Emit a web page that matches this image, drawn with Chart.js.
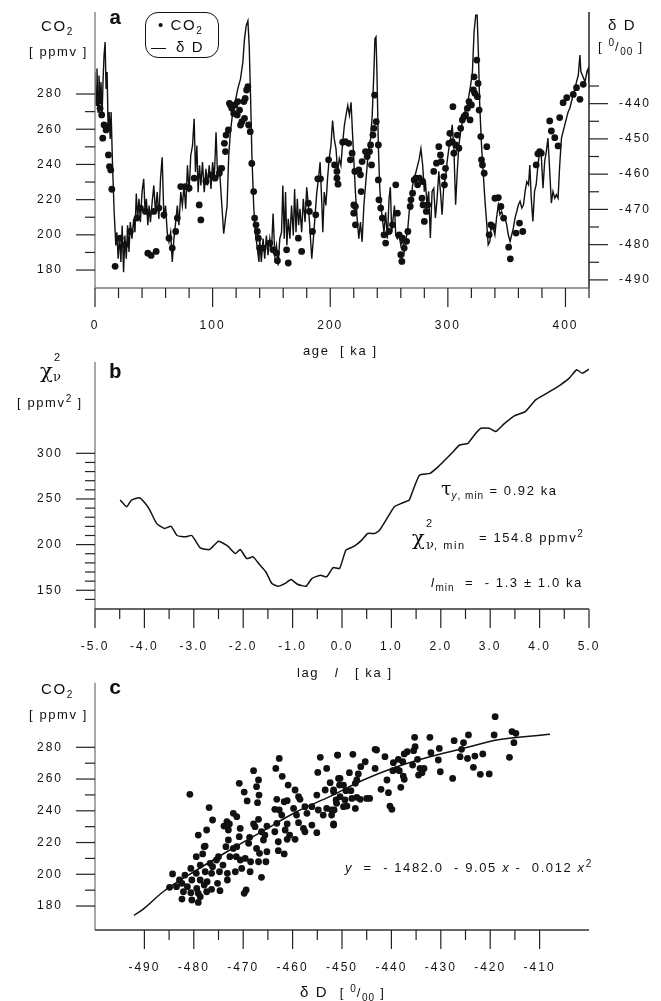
<!DOCTYPE html>
<html>
<head>
<meta charset="utf-8">
<script src="https://cdn.jsdelivr.net/npm/chart.js@4.4.0/dist/chart.umd.min.js"></script>
<style>
  body { margin: 0; background: #fff; width: 661px; height: 1001px; position: relative; overflow: hidden;
         font-family: "Liberation Sans", Arial, sans-serif; color: #111; }
  canvas { position: absolute; left: 0; }
  .t { position: absolute; white-space: nowrap; font-size: 13px; letter-spacing: 1.6px; line-height: 1; }
  .t sub, .t sup { font-size: 10px; line-height: 0; letter-spacing: 1px; }
  .h { font-size: 15px; }
  .lbl { font-family: "Liberation Mono", monospace; font-weight: bold; font-size: 21px; letter-spacing: 0; }
  .gr { font-family: "DejaVu Serif", serif; letter-spacing: 0; }
  .legend { position: absolute; left: 145px; top: 12px; width: 72px; height: 44px; border: 1px solid #111; border-radius: 13px; }
</style>
</head>
<body>

<canvas id="chartA" width="661" height="340" style="top:0"></canvas>
<canvas id="chartB" width="661" height="320" style="top:340px"></canvas>
<canvas id="chartC" width="661" height="341" style="top:660px"></canvas>

<!-- panel a -->
<div class="t h" style="left:41px;top:18px">CO<sub>2</sub></div>
<div class="t" style="left:29px;top:45px">[ ppmv ]</div>
<div class="t lbl" style="left:109px;top:8px">a</div>
<div class="legend"></div>
<div class="t h" style="left:158px;top:17px">• CO<sub>2</sub></div>
<div class="t h" style="left:151px;top:39px">—</div>
<div class="t h" style="left:176px;top:39px">δ D</div>
<div class="t h" style="left:608px;top:17px">δ D</div>
<div class="t" style="left:598px;top:40px">[ <sup>0</sup>/<sub>00</sub> ]</div>
<div class="t" style="left:303px;top:344px">age &nbsp;[ ka ]</div>

<!-- panel b -->
<div class="t gr" style="left:40px;top:361px;font-size:21px">χ</div>
<div class="t" style="left:54px;top:352px;font-size:11px">2</div>
<div class="t gr" style="left:53px;top:370px;font-size:13px">ν</div>
<div class="t" style="left:17px;top:396px">[ ppmv<sup>2</sup> ]</div>
<div class="t lbl" style="left:109px;top:362px">b</div>
<div class="t" style="left:441px;top:479px"><span class="gr" style="font-size:19px">τ</span><sub><i>y</i>, min</sub> = 0.92 ka</div>
<div class="t" style="left:412px;top:528px"><span class="gr" style="font-size:21px">χ</span></div>
<div class="t" style="left:426px;top:518px;font-size:11px">2</div>
<div class="t" style="left:426px;top:538px;font-size:11px"><span class="gr" style="font-size:13px">ν</span>, min</div>
<div class="t" style="left:479px;top:531px">= 154.8 ppmv<sup>2</sup></div>
<div class="t" style="left:431px;top:576px"><i>l</i><sub>min</sub> &nbsp;= &nbsp;- 1.3 ± 1.0 ka</div>
<div class="t" style="left:297px;top:666px">lag &nbsp;&nbsp;<i>l</i> &nbsp;&nbsp;[ ka ]</div>

<!-- panel c -->
<div class="t h" style="left:41px;top:681px">CO<sub>2</sub></div>
<div class="t" style="left:29px;top:708px">[ ppmv ]</div>
<div class="t lbl" style="left:109px;top:678px">c</div>
<div class="t" style="left:345px;top:861px"><i>y</i> &nbsp;= &nbsp;- 1482.0 &nbsp;- 9.05 <i>x</i> - &nbsp;0.012 <i>x</i><sup>2</sup></div>
<div class="t h" style="left:300px;top:984px">δ D &nbsp;<span style="font-size:13px">[ <sup>0</sup>/<sub>00</sub> ]</span></div>

<script>
// ---- panel a: deuterium record (permil) vs age (ka)
const dDAge = [0,0.9,1.7,2.6,3.4,4.3,5.1,6,6.9,7.7,8.6,9.4,10.3,11.1,12,12.9,13.7,14.9,16.3,17.7,18.6,19.7,20.9,22,23.1,24.3,25.4,26.6,27.7,28.9,30,31.4,32.9,34,35.1,36.3,37.4,38.6,40,41.4,42.6,43.7,44.9,46,47.1,48.6,50,51.4,52.9,54.3,55.7,57.1,58.6,60,61.4,62.9,64.3,65.7,67.1,68.6,70,71.4,72.9,74.3,75.7,77.1,78.6,80,81.4,82.9,84.3,85.4,86.6,87.7,88.9,90,91.4,92.9,94.3,95.7,97.1,98.6,100,101.4,102.9,104.3,105.7,107.1,108.6,109.4,110.9,112.3,113.7,115.1,117.1,119.1,121.4,123.7,125.7,127.1,128.6,130,131.1,132.3,133.4,134.9,136.3,137.7,139.4,
  140,141.4,142.9,144.3,145.7,147.1,148.6,150,151.4,152.9,154.3,155.7,157.1,158.6,159.7,160.9,162,163.1,164.3,165.7,167.1,168.6,169.7,170.9,172,173.1,174.3,175.7,177.1,178.6,180,181.4,182.9,184.3,185.7,187.1,188.6,190,191.4,192.9,193.7,194.9,196.3,197.7,199.1,200.6,202,203.4,204.9,206.3,207.7,209.1,210.6,212,213.4,214.9,216.3,217.7,218.9,220,221.4,222.9,224.3,225.7,227.1,228.6,230,231.4,232.9,234.3,235.7,237.1,238,238.9,239.7,240.9,242,243.1,244.3,245.7,247.1,248.6,250,251.1,252.3,253.4,254.6,255.7,257.1,258.6,260,261.4,262.9,264.3,265.7,267.1,268.6,270,271.4,272.9,274.3,275.7,277.1,278.6,
  280,280.9,282.3,283.7,285.1,286.6,288,289.4,290.9,292.3,293.7,295.1,296.6,298,299.4,300.9,302.3,303.7,305.1,306.6,308,309.4,310.9,312.3,313.7,315.1,316.6,318,319.4,320.9,322.3,323.7,324.9,326,327.1,328.6,330,331.4,332.9,334.3,335.7,337.1,338.6,340,341.4,342.9,344.3,345.7,347.1,348.6,350,351.4,352.9,354.3,355.7,357.1,358.6,360,361.4,362.9,364.3,365.7,367.1,368.6,369.7,370.9,372.3,373.7,375.1,376.6,378,379.4,380.9,382.3,383.7,385.1,386.6,388,389.4,390.9,392.3,393.7,395.1,396.6,398,399.4,400.9,402.3,403.7,405.1,406.6,408,409.4,410.9,412.3,413.1,414.9,416.6,418.3,419.4,420];
const dDValue = [-431,-440.5,-430,-442.4,-432,-438.6,-433.9,-443.3,-433,-426.3,-422.5,-435.8,-431,-446.2,-442.4,-450,-442.4,-457.5,-470.8,-480.2,-476.5,-484,-477.4,-484.9,-474.6,-487.8,-477.4,-484,-474.5,-482.1,-473.6,-478.3,-472.7,-476.5,-465.5,-472.7,-467,-473.6,-465.1,-461.3,-470.8,-467,-474.5,-468.9,-473.6,-468,-463.2,-470.8,-465.1,-472.7,-461.3,-455.2,-472.7,-468.9,-476.5,-479.2,-476.5,-484.9,-478.3,-473.6,-468.9,-474.5,-465.1,-468.9,-463.2,-469.8,-457.5,-465.1,-454.7,-451.9,-444.3,-459.4,-451.9,-465.1,-457.5,-463.2,-456.6,-465.1,-458.5,-463.2,-457.5,-464.2,-456.6,-461.3,-448.1,-461.3,-457.5,-465.1,-472.7,-476.9,-472.7,-468.9,-454.7,-448.1,-442.4,-439.6,-435.8,-433,-428.3,-421.6,-417.8,-416.5,-423.5,-438.6,-454.7,-468.9,-476.5,-480.2,-484.9,
  -478.3,-484.9,-478.3,-484,-477.4,-483,-478.3,-482.1,-471.2,-483,-480.2,-485.9,-478.3,-476.5,-463.2,-478.3,-465.1,-480.2,-472.7,-478.3,-468.9,-477.4,-464.2,-476.5,-467,-474.5,-469.8,-476.5,-467,-473.6,-463.7,-468.9,-476.5,-484,-478.3,-471.7,-465.1,-461.3,-456.6,-468.9,-476.5,-465.1,-468.9,-461.3,-455.6,-451.9,-444.8,-450,-452.8,-459.4,-455.6,-457.5,-450.9,-446.2,-443.3,-440.5,-443.3,-439.6,-448.1,-455.6,-465.1,-472.7,-478.3,-473.6,-479.2,-468.9,-463.2,-457.5,-451.9,-450,-443.3,-431,-421.6,-421.1,-431,-451.9,-463.2,-468.9,-472.7,-476.5,-470.8,-478.3,-467,-463.7,-476.5,-472.7,-468.9,-477.4,-478.3,-477.4,-480.2,-478.3,-482.1,-478.3,-476.5,-470.8,-468,-463.2,-461.3,-459.4,-457.5,-455.6,-452.8,-457.5,
  -465,-462.1,-468.7,-464.9,-478.1,-464.9,-464,-472.4,-466.8,-459.2,-464.9,-471.5,-463,-461.1,-456.4,-452.6,-449.8,-446,-452.6,-468.7,-459.2,-451.7,-447.9,-445.1,-444.1,-441.3,-440.4,-437.5,-434.7,-430.9,-419.6,-414.9,-414.9,-426.2,-440.4,-451.7,-459.2,-466.8,-473.4,-480,-479.1,-474.3,-475.3,-477.2,-472.4,-468.7,-471.5,-470.6,-472.4,-472.4,-474.3,-477.2,-479.1,-477.2,-475.3,-472.4,-470.6,-468.7,-467.7,-469.6,-468.7,-464.9,-462.1,-463,-457.4,-466.8,-473.4,-464.9,-463,-457.4,-453.6,-454.6,-464,-456.4,-453.6,-449.8,-459.2,-468.2,-464.9,-466.8,-465.8,-466.8,-457.4,-449.8,-447.9,-446,-444.1,-442.3,-441.3,-439.4,-437.5,-435.7,-433.8,-431.9,-426.2,-430.9,-432.4,-433.8,-430.9,-430,-434];

// ---- panel a: CO2 (ppmv) vs age (ka)
const co2Age = [1.4,2.9,4.3,5.7,6.6,7.7,9.4,10.6,11.4,12.3,13.4,14.3,17.1,21.4,25.7,30,35.7,38.6,42.9,44.9,47.7,50,52,54.3,58.6,62.9,65.7,68.6,70,72.9,76.6,80,84.3,88.6,90,94.3,98.6,102,105.7,107.7,110,110.9,111.4,113.4,114.3,115.1,116.3,118,119.1,120.9,121.4,122.9,123.7,124.9,126.6,127.1,127.7,128.9,130,130.6,132,133.3,134.9,135.7,136.9,138,138.9,140,142.9,148.6,151.4,154.3,155.1,162.9,164.3,172.9,175.7,181.4,182.3,184.9,187.7,189.4,191.7,198.6,203.7,205.7,205.7,206.6,210.6,212.9,215.7,217.1,218.6,220,220,220.9,221.4,221.4,224.3,225.7,226.3,227.1,230,231.4,233.4,234.3,235.1,236.3,237.1,237.7,239.1,240.9,240.9,241.4,242.9,244.3,245.7,247.1,250,252.9,255.7,257.1,258.6,260,260.9,261.4,262.9,264.9,266,268,268.6,270,271.4,272.9,274.3,275.7,278,278.6,278.9,280,281.7,282.9,288,290.3,292.3,293.7,294.3,296.6,297.1,298,300.9,301.7,303.7,304.3,305.1,306.6,308,309.4,310.9,312.3,313.7,315.1,316.6,318,318.9,320,321.7,322.3,322.9,324.6,325.1,325.7,326.6,328,328.6,329.4,330.9,333.1,335.1,336.6,338,340,342.9,345.1,347.4,351.7,353.1,358,360.9,363.7,375.1,376.5,378,379.4,386.6,388,390.9,393.7,395.1,398,401.1,406.6,409.4,412.3,415.1];
const co2Ppmv = [279.4,275.7,271.9,268.1,254.9,262.4,259.6,261.5,245.4,238.8,236.9,225.9,182.1,198.1,194.4,201.9,209.5,215.2,213.3,189.6,188.3,213.3,190.6,215.2,211.4,198.1,192.5,201.9,209.5,227.4,227.4,226.5,232.2,217,208.5,230.3,234.1,232.2,235,237.8,252,247.3,256.7,259.6,274.7,273.8,271.9,269,273.8,268.1,275.7,270.9,262.4,264.3,275.7,266.2,277.5,282.3,284.2,262.4,258.6,240.6,224.6,209.5,205.7,201.9,198.1,192.5,192.5,195.3,191.5,189.6,185.3,191.5,184,198.1,190.6,218,213.3,201.9,211.4,231.8,231.8,242.6,239.7,236,232.2,228.8,252.6,253,252,242.6,246.4,217,212.3,236,216.1,205.7,236.9,234.1,224.6,241.6,247.3,244.5,247.3,251.1,239.7,256.7,260.5,279.4,264.3,251.1,231.2,219.9,215.2,209.5,200,195.3,201.9,205.7,228.4,212.3,200,188.7,184.9,198.1,192.5,196.3,201.9,216.1,219.9,223.7,231.2,232.2,228.4,232.2,220.8,230.3,217,207.6,213.3,217,236,240.7,250.1,245.4,241.6,233.1,228.4,237.8,252,257.7,253,272.8,246.4,251.1,256.7,249.2,260.5,265.3,267.1,268.1,271.9,275.7,265.3,273.8,282.3,289.8,280.4,299.3,278.5,286,270.9,255.8,242.6,239.7,235,250.1,200,205.7,204.8,220.8,221.2,216.1,209.5,193,186.4,201,206.7,201.9,239.7,246,247.3,246.4,264.7,259,255.2,250.5,266.6,275.1,277.9,279.8,283.6,277,285.5];
const ageMajor = [0, 100, 200, 300, 400];
const ageMinor = [20,40,60,80,120,140,160,180,220,240,260,280,320,340,360,380,420];
const co2MajorA = [180, 200, 220, 240, 260, 280];
const co2MinorA = [190, 210, 230, 250, 270];
const dDMajorA = [-490, -480, -470, -460, -450, -440];
const dDMinorA = [-485, -475, -465, -455, -445, -435];

// ---- panel b: reduced chi-square vs lag
const lagKa = [-4.49,-4.36,-4.26,-4.10,-3.98,-3.89,-3.75,-3.59,-3.46,-3.34,-3.17,-3.04,-2.87,-2.68,-2.50,-2.31,-2.16,-2.06,-1.93,-1.80,-1.67,-1.54,-1.42,-1.29,-1.16,-1.03,-0.90,-0.73,-0.61,-0.44,-0.31,-0.18,-0.05,0.08,0.25,0.40,0.52,0.66,0.76,0.89,1.06,1.23,1.36,1.44,1.57,1.78,1.95,2.12,2.25,2.38,2.55,2.68,2.81,2.98,3.11,3.28,3.49,3.71,3.92,4.09,4.26,4.43,4.60,4.75,4.86,5.0];
const chi2 = [248.8,241.5,248.8,251.3,245,237.8,223,217.7,220,210,208.5,210,196.5,194.6,203.8,198.3,190.2,194.6,184.8,186.6,178.2,170,157.3,154.4,157.3,161.7,156.6,154.4,162.8,166.5,164.7,174.9,173.8,193.9,198.3,204.9,212.2,212.2,215.8,226.8,241.5,245.8,248.8,259.8,276.2,278,285.4,294.5,301.8,309.1,311,320.1,327.4,327.4,323.8,332.2,341,345.7,358.5,364,369.5,375.3,382.3,391.5,387.8,392.2];
const lagMajor = [-5,-4,-3,-2,-1,0,1,2,3,4,5];
const lagMinor = [-4.5,-3.5,-2.5,-1.5,-0.5,0.5,1.5,2.5,3.5,4.5];
const chiMajor = [150, 200, 250, 300];
const chiMinor = [140,160,170,180,190,210,220,230,240,260,270,280,290];

// ---- panel c: CO2 vs deuterium scatter and fitted curve
const scatDD = [-462.7,-454.4,-450.9,-467.9,-463.4,-454.9,-453.1,-462.1,-466.9,-470.8,-450.7,-467.3,-469.8,-480.8,-460.9,-459.5,-452.4,-453.4,-451.7,-466.8,-469.2,-467.1,-463.2,-461.7,-461.1,-458.8,-458.5,-455.1,-476.9,-463.6,-462.7,-459.8,-457.5,-456.1,-454.8,-453.1,-451.1,-451.6,-472.0,-471.3,-466.9,-462.2,-459.2,-457.1,-453.8,-452.1,-476.2,-473.3,-473.9,-472.8,-467.9,-465.2,-463.2,-461.1,-458.8,-456.1,-451.7,-477.4,-479.1,-473.0,-470.6,-467.6,-466.3,-465.6,-463.6,-461.5,-460.6,-457.8,-457.5,-455.1,-477.7,-473.0,-470.8,-468.7,-465.9,-462.9,-461.1,-459.5,-479.5,-478.2,-477.9,-475.0,-473.5,-472.0,-471.3,-468.9,-467.3,-466.7,-465.2,-462.9,-461.7,-478.7,-476.7,-476.2,-475.4,-474.1,-472.7,-471.4,-470.6,-469.6,-468.5,-466.9,-465.4,-484.3,-480.6,-479.5,-477.7,-476.4,-474.8,-473.2,-471.6,-470.3,-468.6,-466.3,-482.9,-481.8,-480.4,-478.7,-477.3,-475.2,-473.2,-484.9,-483.5,-482.4,-481.3,-479.4,-477.9,-476.4,-474.7,-469.4,-469.8,-482.1,-480.6,-479.1,-477.4,-482.4,-480.4,-478.7,-479.1,
  -419.0,-419.2,-415.6,-414.8,-415.2,-416.1,-420.2,-422.0,-423.4,-421.5,-423.1,-424.6,-426.1,-424.4,-425.4,-425.8,-427.3,-427.6,-430.3,-430.5,-430.1,-432.2,-432.0,-435.3,-435.2,-435.5,-436.8,-437.4,-437.7,-438.6,-439.6,-438.9,-439.7,-438.4,-434.7,-435.7,-434.2,-433.4,-434.5,-433.8,-437.6,-437.4,-438.1,-440.9,-441.3,-443.3,-443.0,-443.3,-445.3,-446.2,-447.8,-450.9,-448.5,-446.7,-447.0,-447.3,-448.2,-450.4,-449.7,-449.2,-450.5,-451.7,-442.1,-440.6,-445.0,-444.4,-446.3,-447.0,-448.0,-449.4,-450.4,-451.2,-449.0,-449.7,-447.3,-440.3,-439.9,-452.1,-451.7];
const scatCO2 = [273.0,273.7,275.1,265.3,266.7,264.2,266.7,261.7,259.4,257.3,260.4,255.2,251.8,250.4,256.2,253.1,257.7,253.1,252.0,249.9,246.2,245.1,247.2,245.7,246.4,248.9,247.2,249.9,242.0,240.9,240.5,241.5,242.6,242.6,240.5,241.5,244.7,240.5,238.4,236.3,234.6,237.3,237.3,238.4,237.3,237.3,234.2,233.1,230.4,231.7,231.7,230.4,232.1,231.7,232.5,231.0,231.0,227.9,224.7,227.9,228.9,230.0,226.8,224.7,226.8,227.9,224.7,228.9,226.8,226.2,217.8,221.6,223.7,223.3,221.6,220.5,222.0,222.0,211.1,212.8,217.4,211.1,217.4,216.3,217.4,219.5,216.3,213.2,214.2,214.9,212.8,205.8,206.9,204.8,209.0,205.8,211.1,211.1,209.0,210.0,207.9,207.9,207.9,200.2,203.7,200.6,201.6,200.6,201.6,200.6,201.6,203.7,201.6,198.1,196.4,199.5,196.4,196.4,195.3,194.3,196.4,191.8,192.2,194.3,192.2,191.1,193.2,190.5,189.7,190.1,188.0,189.0,188.4,188.0,189.0,184.4,183.8,185.9,182.3,
  299.3,287.8,289.9,288.8,282.9,273.7,263.2,263.0,267.4,275.8,274.5,273.0,274.1,287.8,282.9,278.7,284.2,260.4,279.3,272.0,264.6,286.3,276.6,286.3,280.4,277.9,277.2,275.8,270.9,272.4,270.3,266.1,265.3,265.3,272.4,268.8,266.7,266.7,262.5,264.0,261.9,259.8,254.8,259.4,274.1,278.7,278.3,266.7,270.9,267.8,275.6,275.1,264.0,263.2,259.4,257.3,252.7,260.4,256.2,252.7,256.2,253.1,253.5,251.4,247.8,247.8,247.2,248.5,247.8,246.8,248.9,246.8,243.0,242.6,241.5,243.0,240.9,240.5,231.7];
const fitDD = [-492.1,-490.3,-486.2,-479.4,-472.7,-465.9,-459.2,-452.4,-445.7,-438.9,-432.2,-425.4,-418.7,-407.9];
const fitCO2 = [174.1,177.9,189.0,202.7,215.3,227.5,239.4,249.1,259.4,267.8,274.1,279.3,284.6,288.2];
const dDMajorC = [-490,-480,-470,-460,-450,-440,-430,-420,-410];
const dDMinorC = [-485,-475,-465,-455,-445,-435,-425,-415];
const co2MajorC = [180, 200, 220, 240, 260, 280];
const co2MinorC = [190, 210, 230, 250, 270];

const tickFont = { family: 'Liberation Sans', size: 12 };
const INK = '#111';

// draws axis lines and long/short tick marks through the chart scales
const axesPlugin = {
  id: 'axesDraw',
  beforeDraw(chart) {
    chart.ctx.letterSpacing = '2px';
  },
  afterDraw(chart, args, opts) {
    const ctx = chart.ctx, area = chart.chartArea;
    ctx.save();
    ctx.letterSpacing = '0px';
    (opts.axes || []).forEach(ax => {
      const s = chart.scales[ax.id];
      ctx.strokeStyle = ax.lineColor;
      ctx.lineWidth = 1.5;
      ctx.beginPath();
      if (ax.side === 'bottom') {
        ctx.moveTo(area.left, area.bottom);
        ctx.lineTo(area.right, area.bottom);
      } else {
        const x = ax.side === 'left' ? area.left : area.right;
        ctx.moveTo(x, area.top);
        ctx.lineTo(x, area.bottom);
      }
      ctx.stroke();
      ctx.strokeStyle = '#222';
      ctx.lineWidth = 1.2;
      const mark = (v, len) => {
        const p = s.getPixelForValue(v);
        ctx.beginPath();
        if (ax.side === 'bottom') { ctx.moveTo(p, area.bottom); ctx.lineTo(p, area.bottom + len); }
        else if (ax.side === 'left') { ctx.moveTo(area.left, p); ctx.lineTo(area.left - len, p); }
        else { ctx.moveTo(area.right, p); ctx.lineTo(area.right + len, p); }
        ctx.stroke();
      };
      ax.major.forEach(v => mark(v, 19));
      ax.minor.forEach(v => mark(v, 10));
    });
    ctx.restore();
  }
};

function pts(xs, ys) {
  return xs.map((x, i) => ({ x: x, y: ys[i] }));
}

function axis(opts) {
  return {
    type: 'linear',
    position: opts.position,
    min: opts.min,
    max: opts.max,
    grid: { display: false },
    border: { display: false },
    afterBuildTicks: s => { s.ticks = opts.labels.map(v => ({ value: v })); },
    afterFit: s => {
      if (opts.width) s.width = opts.width;
      if (opts.height) s.height = opts.height;
      s.paddingTop = 0; s.paddingBottom = 0; s.paddingLeft = 0; s.paddingRight = 0;
    },
    ticks: {
      padding: opts.padding,
      font: tickFont,
      color: INK,
      maxRotation: 0,
      autoSkip: false,
      callback: opts.format || (v => String(v))
    }
  };
}

Chart.register(axesPlugin);

const common = {
  responsive: false,
  animation: false,
  events: [],
  plugins: { legend: { display: false }, tooltip: { enabled: false } }
};

// ---- chart a
new Chart(document.getElementById('chartA'), {
  type: 'scatter',
  data: {
    datasets: [
      { data: pts(co2Age, co2Ppmv), yAxisID: 'y', pointRadius: 3.4, pointBackgroundColor: INK, pointBorderWidth: 0, showLine: false },
      { data: pts(dDAge, dDValue), yAxisID: 'y2', showLine: true, borderColor: INK, borderWidth: 1.4, pointRadius: 0, tension: 0 }
    ]
  },
  options: Object.assign({}, common, {
    layout: { padding: { top: 12, left: 0, right: 0, bottom: 0 } },
    scales: {
      x: axis({ position: 'bottom', min: 0, max: 420, labels: ageMajor, padding: 22, height: 52 }),
      y: axis({ position: 'left', min: 169.8, max: 326.6, labels: co2MajorA, padding: 24, width: 95 }),
      y2: axis({ position: 'right', min: -492.3, max: -414.0, labels: dDMajorA, padding: 22, width: 72 })
    },
    plugins: Object.assign({}, common.plugins, {
      axesDraw: { axes: [
        { id: 'y', side: 'left', lineColor: '#8a8a8a', major: co2MajorA, minor: co2MinorA },
        { id: 'y2', side: 'right', lineColor: '#222', major: dDMajorA, minor: dDMinorA },
        { id: 'x', side: 'bottom', lineColor: '#777', major: ageMajor, minor: ageMinor }
      ] }
    })
  })
});

// ---- chart b
new Chart(document.getElementById('chartB'), {
  type: 'scatter',
  data: {
    datasets: [
      { data: pts(lagKa, chi2), showLine: true, borderColor: INK, borderWidth: 1.5, pointRadius: 0, tension: 0.15 }
    ]
  },
  options: Object.assign({}, common, {
    layout: { padding: { top: 22, left: 0, right: 72, bottom: 0 } },
    scales: {
      x: axis({ position: 'bottom', min: -5, max: 5, labels: lagMajor, padding: 22, height: 51, format: v => v.toFixed(1) }),
      y: axis({ position: 'left', min: 129.5, max: 400, labels: chiMajor, padding: 24, width: 95 })
    },
    plugins: Object.assign({}, common.plugins, {
      axesDraw: { axes: [
        { id: 'y', side: 'left', lineColor: '#8a8a8a', major: chiMajor, minor: chiMinor },
        { id: 'x', side: 'bottom', lineColor: '#333', major: lagMajor, minor: lagMinor }
      ] }
    })
  })
});

// ---- chart c
new Chart(document.getElementById('chartC'), {
  type: 'scatter',
  data: {
    datasets: [
      { data: pts(scatDD, scatCO2), pointRadius: 3.4, pointBackgroundColor: INK, pointBorderWidth: 0, showLine: false },
      { data: pts(fitDD, fitCO2), showLine: true, borderColor: INK, borderWidth: 1.5, pointRadius: 0, tension: 0.4, cubicInterpolationMode: 'monotone' }
    ]
  },
  options: Object.assign({}, common, {
    layout: { padding: { top: 22.7, left: 0, right: 72, bottom: 0 } },
    scales: {
      x: axis({ position: 'bottom', min: -500, max: -400, labels: dDMajorC, padding: 22, height: 71 }),
      y: axis({ position: 'left', min: 164.9, max: 320.7, labels: co2MajorC, padding: 24, width: 95 })
    },
    plugins: Object.assign({}, common.plugins, {
      axesDraw: { axes: [
        { id: 'y', side: 'left', lineColor: '#8a8a8a', major: co2MajorC, minor: co2MinorC },
        { id: 'x', side: 'bottom', lineColor: '#333', major: dDMajorC, minor: dDMinorC }
      ] }
    })
  })
});
</script>
</body>
</html>
